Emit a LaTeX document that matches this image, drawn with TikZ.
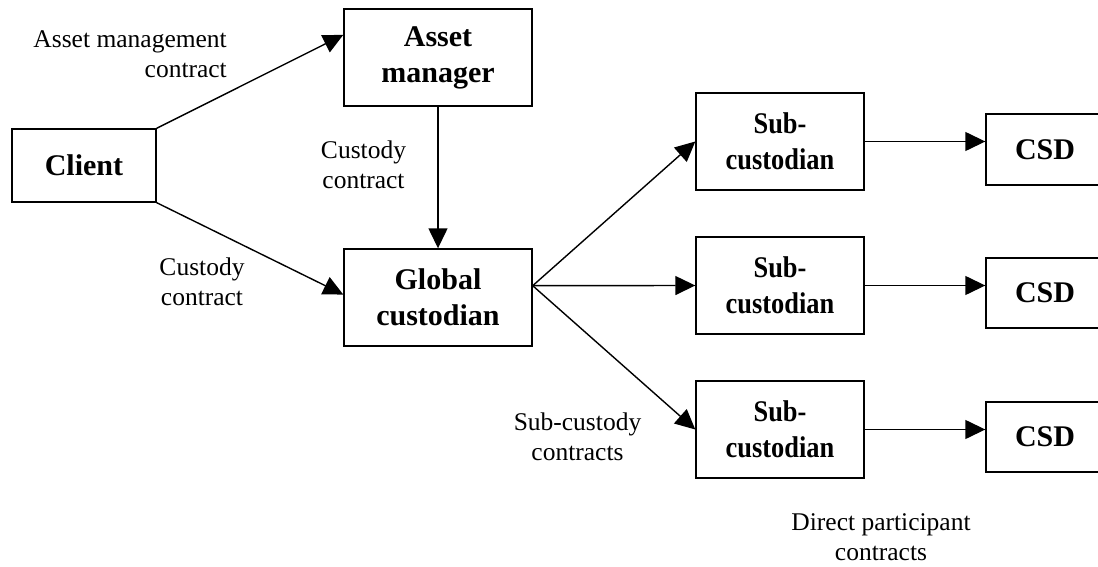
\documentclass[tikz,border=0pt]{standalone}
\usepackage{fontspec}
\setmainfont{Liberation Serif}
\newfontfamily\narrowserif[FakeStretch=0.88]{Liberation Serif}
\usetikzlibrary{arrows.meta,calc}
\begin{document}
\begin{tikzpicture}[x=1pt,y=-1pt,
  box/.style={draw,line width=1.4pt,inner sep=0pt,align=center,
    font=\fontsize{30}{36}\selectfont\bfseries},
  lbl/.style={inner sep=0pt,align=center,font=\fontsize{25.5}{30}\selectfont},
  conn/.style={line width=1.4pt,-{Triangle[length=20pt,width=19pt]}}]
\useasboundingbox (0,0) rectangle (1098,567);
\node[box,minimum width=144pt,minimum height=73pt] (cl) at (84,165.5) {Client};
\node[box,minimum width=188pt,minimum height=97pt] (am) at (438,57.5) {Asset\\manager};
\node[box,minimum width=188pt,minimum height=97pt] (gc) at (438,297.5) {Global\\custodian};
\node[box,minimum width=168pt,minimum height=97pt,font=\fontsize{30}{36}\narrowserif\bfseries] (s1) at (780,141.5) {Sub-\\custodian};
\node[box,minimum width=168pt,minimum height=97pt,font=\fontsize{30}{36}\narrowserif\bfseries] (s2) at (780,285.5) {Sub-\\custodian};
\node[box,minimum width=168pt,minimum height=97pt,font=\fontsize{30}{36}\narrowserif\bfseries] (s3) at (780,429.5) {Sub-\\custodian};
\node[box,minimum width=118pt,minimum height=71pt] (c1) at (1045,149.5) {CSD};
\node[box,minimum width=118pt,minimum height=70pt] (c2) at (1045,293) {CSD};
\node[box,minimum width=118pt,minimum height=70pt] (c3) at (1045,437) {CSD};
% connectors
\coordinate (amin) at ($(am.north west)!0.27!(am.south west)$);
\coordinate (gcin) at ($(gc.north west)!0.47!(gc.south west)$);
\coordinate (gcout) at ($(gc.north east)!0.38!(gc.south east)$);
\draw[conn] (cl.north east) -- (amin);
\draw[conn] (cl.south east) -- (gcin);
\draw[conn] (am.south) -- (gc.north);
\draw[conn] (gcout) -- (s1.west);
\draw[conn] (gcout) -- (s2.west);
\draw[conn] (gcout) -- (s3.west);
\draw[conn] (s1.east) -- (s1.east -| c1.west);
\draw[conn] (s2.east) -- (s2.east -| c2.west);
\draw[conn] (s3.east) -- (s3.east -| c3.west);
% labels
\node[lbl,align=right,anchor=east] (l1) at (227,54) {Asset management\\contract};
\node[lbl] (l2) at (363.5,165) {Custody\\contract};
\node[lbl] (l3) at (202,282) {Custody\\contract};
\node[lbl] (l4) at (577.5,436.5) {Sub-custody\\contracts};
\node[lbl] (l5) at (881,537) {Direct participant\\contracts};
\end{tikzpicture}
\end{document}
